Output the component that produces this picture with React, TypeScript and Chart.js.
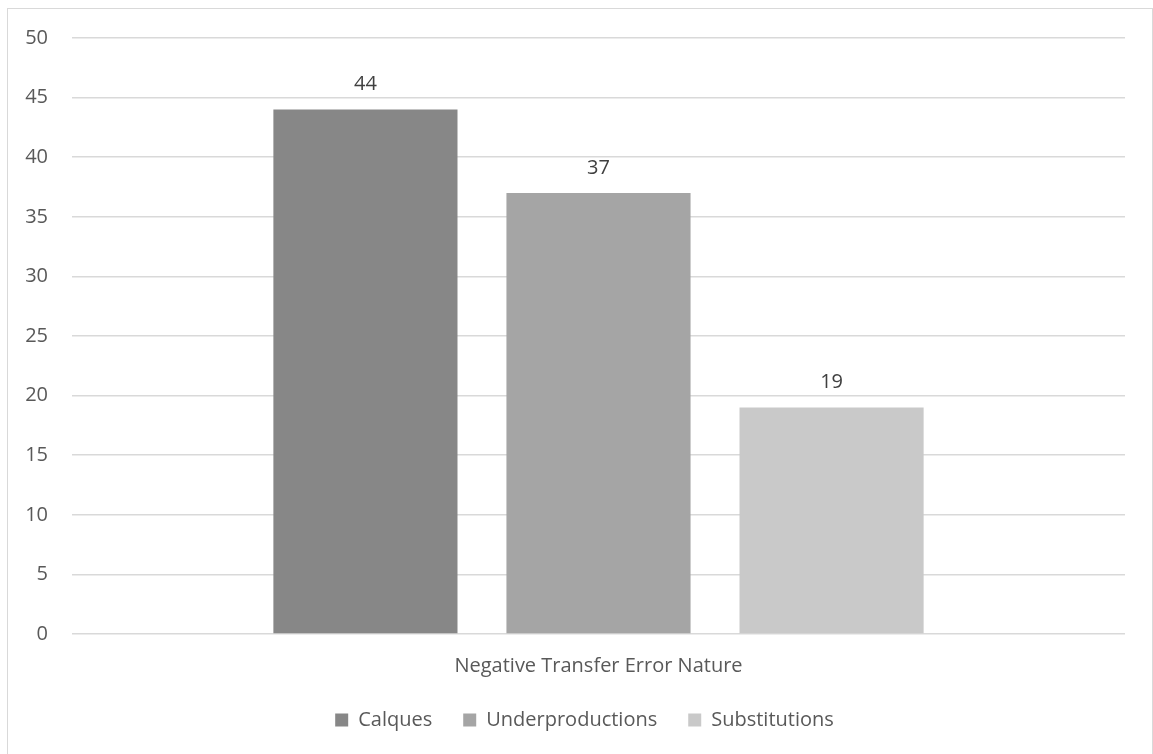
import React, { useEffect, useRef } from "react";
import { Chart, registerables } from "chart.js";

Chart.register(...registerables);

const categories = ["Negative Transfer Error Nature"];
const seriesNames = ["Calques", "Underproductions", "Substitutions"];
const calques = [44];
const underproductions = [37];
const substitutions = [19];
const seriesColors = ["#878787", "#a5a5a5", "#c9c9c9"];
const yTicks = { min: 0, max: 50, step: 5 };

const FONT = "'Open Sans', 'DejaVu Sans', sans-serif";
const FONT_SIZE = 20;

// Light frame drawn around the whole chart
const framePlugin = {
  id: "frame",
  beforeDraw(chart: Chart) {
    const ctx = chart.ctx;
    ctx.save();
    ctx.fillStyle = "#ffffff";
    ctx.fillRect(0, 0, chart.width, chart.height);
    ctx.strokeStyle = "#d9d9d9";
    ctx.lineWidth = 1;
    ctx.strokeRect(7.5, 8.5, chart.width - 8, chart.height + 20);
    ctx.restore();
  },
};

// Value labels above each bar
const valueLabelPlugin = {
  id: "valueLabels",
  afterDatasetsDraw(chart: Chart) {
    const ctx = chart.ctx;
    ctx.save();
    ctx.font = `${FONT_SIZE}px ${FONT}`;
    ctx.fillStyle = "#404040";
    ctx.textAlign = "center";
    ctx.textBaseline = "middle";
    chart.data.datasets.forEach((ds, di) => {
      const meta = chart.getDatasetMeta(di);
      meta.data.forEach((bar: any, i: number) => {
        const v = ds.data[i] as number;
        ctx.fillText(String(v), bar.x, bar.y - 25);
      });
    });
    ctx.restore();
  },
};

export default function App() {
  const ref = useRef<HTMLCanvasElement | null>(null);

  useEffect(() => {
    if (!ref.current) return;
    const chart = new Chart(ref.current, {
      type: "bar",
      data: {
        labels: categories,
        datasets: [
          { label: seriesNames[0], data: calques, backgroundColor: seriesColors[0] },
          { label: seriesNames[1], data: underproductions, backgroundColor: seriesColors[1] },
          { label: seriesNames[2], data: substitutions, backgroundColor: seriesColors[2] },
        ],
      },
      options: {
        animation: false,
        responsive: false,
        maintainAspectRatio: false,
        layout: { padding: { left: 16, right: 0, top: 38, bottom: 14 } },
        datasets: {
          bar: { categoryPercentage: 0.664, barPercentage: 0.79 },
        },
        scales: {
          x: {
            grid: { display: false, drawTicks: false },
            border: { display: false },
            ticks: {
              padding: 20,
              color: "#595959",
              font: { family: FONT, size: FONT_SIZE },
            },
            afterFit(scale: any) {
              scale.height = 45;
            },
          },
          y: {
            min: yTicks.min,
            max: yTicks.max,
            grid: { color: "#d9d9d9", lineWidth: 1.5, drawTicks: false },
            border: { display: false },
            ticks: {
              stepSize: yTicks.step,
              padding: 24,
              color: "#595959",
              font: { family: FONT, size: FONT_SIZE },
            },
            afterFit(scale: any) {
              scale.width = 56;
            },
          },
          // empty right-hand axis that only reserves the right margin
          yRight: {
            position: "right",
            min: yTicks.min,
            max: yTicks.max,
            grid: { display: false, drawTicks: false },
            border: { display: false },
            ticks: { display: false },
            afterFit(scale: any) {
              scale.width = 28;
            },
          },
        },
        plugins: {
          legend: {
            position: "bottom",
            labels: {
              boxWidth: 13,
              boxHeight: 13,
              padding: 31,
              color: "#595959",
              font: { family: FONT, size: FONT_SIZE },
            },
          },
          tooltip: { enabled: false },
        },
      },
      plugins: [framePlugin, valueLabelPlugin],
    });
    return () => chart.destroy();
  }, []);

  return (
    <div style={{ position: "absolute", left: 0, top: 0, width: 1153, height: 754 }}>
      <canvas ref={ref} width={1153} height={754} />
    </div>
  );
}
